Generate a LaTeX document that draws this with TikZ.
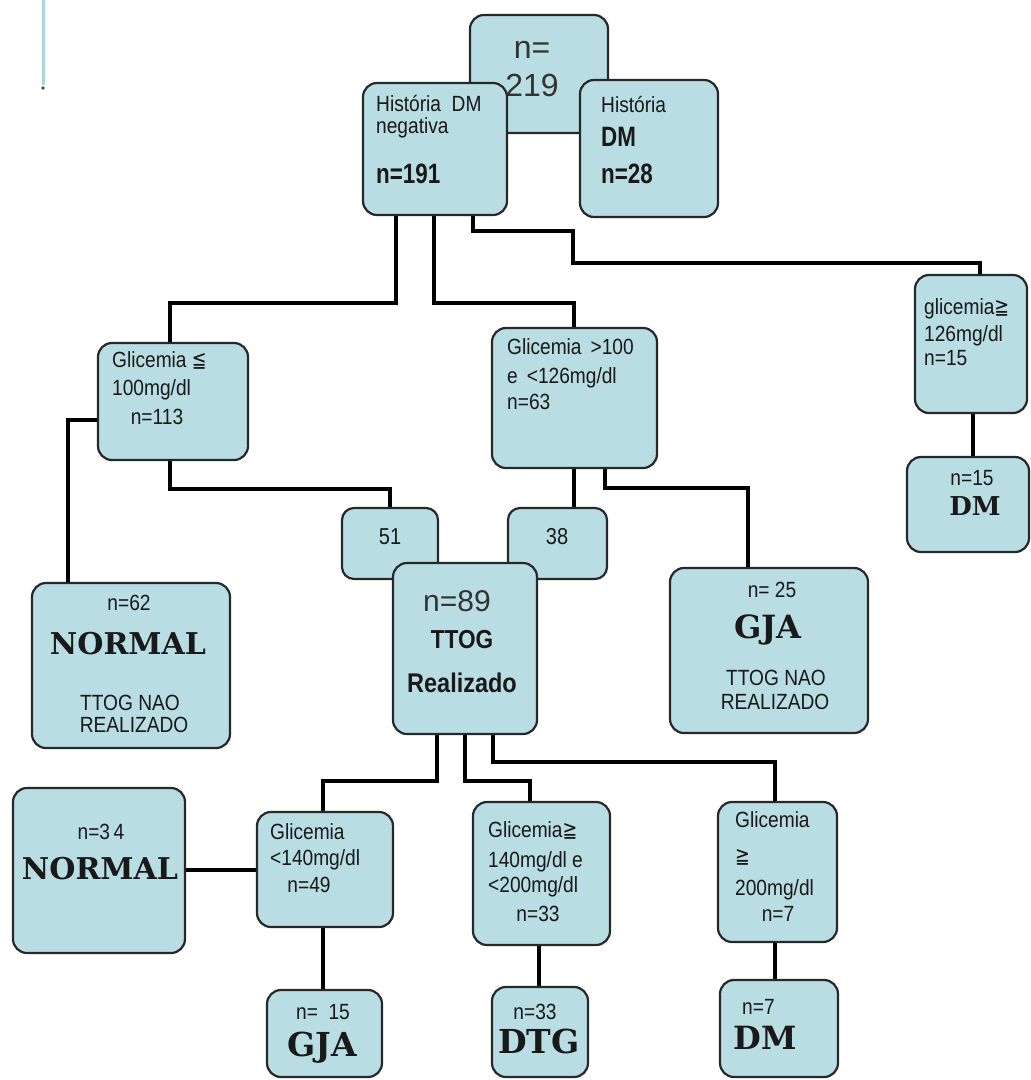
\documentclass[tikz,border=0pt]{standalone}
\usepackage{fontspec}
\setmainfont{Liberation Sans}
\newfontfamily\nsans{Liberation Sans}[FakeStretch=0.87]
\newfontfamily\nsansb{Liberation Sans}[FakeStretch=0.8]
\newfontfamily\slab{DejaVu Serif}
\newfontfamily\symf{DejaVu Sans}[FakeStretch=0.8]
\usetikzlibrary{fit}
\definecolor{boxblue}{RGB}{184,221,227}
\definecolor{edge}{RGB}{40,40,40}
\definecolor{ink}{RGB}{25,25,25}
\definecolor{deco}{RGB}{170,215,222}
\newcommand\myleq{{\symf ≦}}
\newcommand\mygeq{{\symf ≧}}
\begin{document}
\begin{tikzpicture}[x=1pt,y=-1pt,
 box/.style={draw=edge, fill=boxblue, line width=2.2pt, rounded corners=14pt, inner sep=0pt},
 conn/.style={draw=black, line width=4pt},
 txt/.style={inner sep=0pt, text=ink, font=\nsans\fontsize{22}{24}\selectfont},
 btxt/.style={inner sep=0pt, text=ink, font=\nsansb\bfseries\fontsize{28}{30}\selectfont},
 light/.style={inner sep=0pt, text=black!80, font=\fontsize{32}{34}\selectfont},
 serifb/.style={inner sep=0pt, text=ink, font=\slab\bfseries\fontsize{30}{32}\selectfont},
]
\useasboundingbox (0,0) rectangle (1031,1080);
\fill[white] (0,0) rectangle (1031,1080);

% decoration top left
\draw[deco, line width=3pt] (43,0) -- (43,85);
\fill[black!70] (43,88) circle (1.8);

% top boxes
\node[box, fit={(470,15) (608,133)}] (A) {};
\node[light, anchor=mid] (tA1) at (532,56) {n=};
\node[light, anchor=mid] (tA2) at (532,94) {219};

\node[box, fit={(363,83) (507,215)}] (B) {};
\node[txt, anchor=mid west] (tB1) at (376,109) {História\ \ DM};
\node[txt, anchor=mid west] (tB2) at (376,131) {negativa};
\node[btxt, anchor=mid west] (tB3) at (376,181) {n=191};

\node[box, fit={(580,80) (718,217)}] (C) {};
\node[txt, anchor=mid west] (tC1) at (601,110) {História};
\node[btxt, anchor=mid west] (tC2) at (601,144) {DM};
\node[btxt, anchor=mid west] (tC3) at (601,181) {n=28};

% second level
\node[box, fit={(98,343) (248,460)}] (D) {};
\node[txt, anchor=mid west] (tD1) at (112,365) {Glicemia \myleq};
\node[txt, anchor=mid west] (tD2) at (112,393) {100mg/dl};
\node[txt, anchor=mid] (tD3) at (157,422) {n=113};

\node[box, fit={(492,328) (657,468)}] (E) {};
\node[txt, anchor=mid west] (tE1) at (507,352) {Glicemia \,>100};
\node[txt, anchor=mid west] (tE2) at (507,381) {e \,<126mg/dl};
\node[txt, anchor=mid west] (tE3) at (507,407) {n=63};

\node[box, fit={(915,275) (1027,413)}] (F) {};
\node[txt, anchor=mid west] (tF1) at (924,312) {glicemia\mygeq};
\node[txt, anchor=mid west] (tF2) at (924,339) {126mg/dl};
\node[txt, anchor=mid west] (tF3) at (924,363) {n=15};

\node[box, fit={(907,457) (1029,552)}] (G) {};
\node[txt, anchor=mid] (tG1) at (972,483) {n=15};
\node[serifb, font=\slab\bfseries\fontsize{26}{28}\selectfont, anchor=mid] (tG2) at (975,513) {DM};

% 51 / 38 / 89
\node[box, rounded corners=12pt, fit={(342,508) (438,579)}] (F51) {};
\node[txt, font=\nsans\fontsize{23}{25}\selectfont, anchor=mid] (t51) at (390,542) {51};
\node[box, rounded corners=12pt, fit={(508,508) (607,579)}] (F38) {};
\node[txt, font=\nsans\fontsize{23}{25}\selectfont, anchor=mid] (t38) at (557,542) {38};

\node[box, fit={(393,563) (537,734)}] (H) {};
\node[light, font=\fontsize{30}{32}\selectfont, anchor=mid] (tH1) at (457,609) {n=89};
\node[btxt, font=\nsans\bfseries\fontsize{26}{28}\selectfont, anchor=mid] (tH2) at (462,646) {TTOG};
\node[btxt, font=\nsans\bfseries\fontsize{27}{29}\selectfont, anchor=mid] (tH3) at (462,690) {Realizado};

% NORMAL (TTOG nao realizado)
\node[box, fit={(32,583) (230,748)}] (I) {};
\node[txt, anchor=mid] (tI1) at (129,608) {n=62};
\node[serifb, anchor=mid] (tI2) at (128,652) {NORMAL};
\node[txt, anchor=mid] (tI3) at (130,708) {TTOG NAO};
\node[txt, anchor=mid] (tI4) at (134,730) {REALIZADO};

% GJA (TTOG nao realizado)
\node[box, fit={(670,568) (868,733)}] (J) {};
\node[txt, anchor=mid] (tJ1) at (772,595) {n= 25};
\node[serifb, font=\slab\bfseries\fontsize{32}{34}\selectfont, anchor=mid] (tJ2) at (768,636) {GJA};
\node[txt, anchor=mid] (tJ3) at (776,683) {TTOG NAO};
\node[txt, anchor=mid] (tJ4) at (775,707) {REALIZADO};

% bottom level
\node[box, fit={(13,788) (185,953)}] (N) {};
\node[txt, anchor=mid] (tN1) at (101,837) {n=3\,4};
\node[serifb, anchor=mid] (tN2) at (100,877) {NORMAL};

\node[box, fit={(257,812) (393,927)}] (K) {};
\node[txt, anchor=mid west] (tK1) at (270,837) {Glicemia};
\node[txt, anchor=mid west] (tK2) at (270,863) {<140mg/dl};
\node[txt, anchor=mid] (tK3) at (309,890) {n=49};

\node[box, fit={(473,802) (610,945)}] (L) {};
\node[txt, anchor=mid west] (tL1) at (488,835) {Glicemia\mygeq};
\node[txt, anchor=mid west] (tL2) at (488,865) {140mg/dl e};
\node[txt, anchor=mid west] (tL3) at (488,890) {<200mg/dl};
\node[txt, anchor=mid] (tL4) at (538,919) {n=33};

\node[box, fit={(718,802) (837,942)}] (M) {};
\node[txt, anchor=mid west] (tM1) at (735,825) {Glicemia};
\node[txt, anchor=mid west] (tM2) at (735,861) {\mygeq};
\node[txt, anchor=mid west] (tM3) at (735,893) {200mg/dl};
\node[txt, anchor=mid] (tM4) at (778,919) {n=7};

\node[box, fit={(267,990) (382,1077)}] (O) {};
\node[txt, anchor=mid] (tO1) at (323,1017) {n=\ \ 15};
\node[serifb, font=\slab\bfseries\fontsize{33}{35}\selectfont, anchor=mid] (tO2) at (322,1054) {GJA};

\node[box, fit={(492,987) (588,1077)}] (P) {};
\node[txt, anchor=mid] (tP1) at (535,1017) {n=33};
\node[serifb, font=\slab\bfseries\fontsize{33}{35}\selectfont, anchor=mid] (tP2) at (539,1051) {DTG};

\node[box, fit={(720,980) (838,1077)}] (Q) {};
\node[txt, anchor=mid west] (tQ1) at (742,1012) {n=7};
\node[serifb, font=\slab\bfseries\fontsize{32}{34}\selectfont, anchor=mid] (tQ2) at (765,1047) {DM};

% connectors
\draw[conn] (396,0 |- B.south) |- (170,303) -- (170,0 |- D.north);
\draw[conn] (434,0 |- B.south) |- (574,303) -- (574,0 |- E.north);
\draw[conn] (473,0 |- B.south) |- (573,231) |- (980,263) -- (980,0 |- F.north);
\draw[conn] (D.west |- 0,420) -| (68,0 |- I.north);
\draw[conn] (170,0 |- D.south) |- (390,489) -- (390,0 |- F51.north);
\draw[conn] (574,0 |- E.south) -- (574,0 |- F38.north);
\draw[conn] (605,0 |- E.south) |- (748,488) -- (748,0 |- J.north);
\draw[conn] (973,0 |- F.south) -- (973,0 |- G.north);
\draw[conn] (437,0 |- H.south) |- (323,781) -- (323,0 |- K.north);
\draw[conn] (465,0 |- H.south) |- (530,781) -- (530,0 |- L.north);
\draw[conn] (493,0 |- H.south) |- (775,762) -- (775,0 |- M.north);
\draw[conn] (N.east |- 0,870) -- (K.west |- 0,870);
\draw[conn] (323,0 |- K.south) -- (323,0 |- O.north);
\draw[conn] (539,0 |- L.south) -- (539,0 |- P.north);
\draw[conn] (775,0 |- M.south) -- (775,0 |- Q.north);
\end{tikzpicture}
\end{document}
